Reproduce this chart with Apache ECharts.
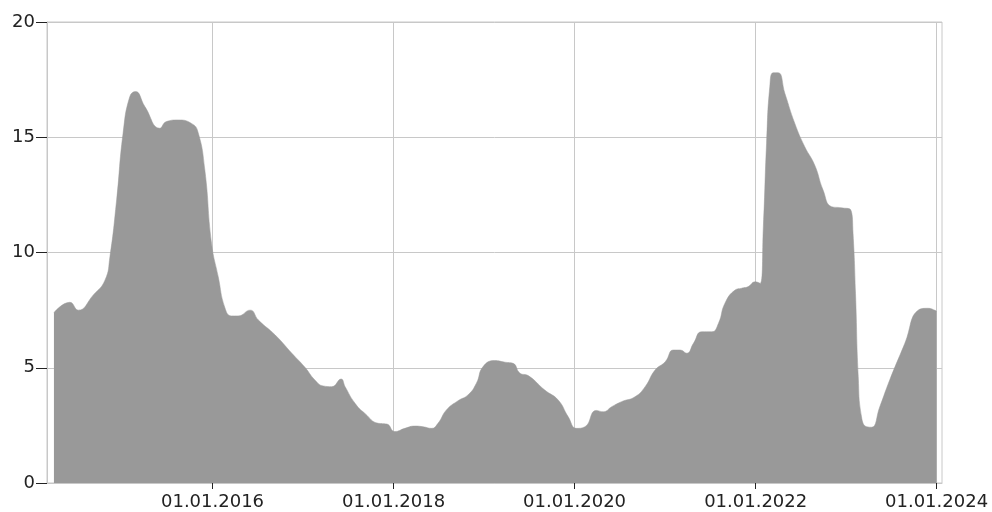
<!DOCTYPE html>
<html>
<head>
<meta charset="utf-8">
<script src="https://cdn.jsdelivr.net/npm/echarts@6/dist/echarts.min.js"></script>
<style>
  html, body { margin: 0; padding: 0; background: #fff; }
  #chart { width: 992px; height: 512px; }
</style>
</head>
<body>
<div id="chart"></div>
<script>
// values
const dates = [
  '2014-04-01', '2014-06-04', '2014-07-08', '2014-09-07', '2014-10-24', '2014-11-13', '2014-12-10',
  '2015-01-05', '2015-02-01', '2015-02-24', '2015-04-03', '2015-06-02', '2015-06-29', '2015-08-15',
  '2015-10-08', '2015-11-03', '2015-12-01', '2015-12-28',
  '2016-01-24', '2016-02-20', '2016-03-17', '2016-04-13', '2016-06-01', '2016-07-04', '2016-09-10', '2016-11-16',
  '2017-01-08', '2017-02-17', '2017-03-23', '2017-04-26', '2017-06-03', '2017-06-19', '2017-07-29',
  '2017-09-07', '2017-10-31', '2017-12-04',
  '2018-01-06', '2018-02-15', '2018-03-27', '2018-04-30', '2018-06-03', '2018-06-29', '2018-08-02',
  '2018-09-18', '2018-10-28', '2018-12-01', '2018-12-28',
  '2019-02-13', '2019-03-26', '2019-04-28', '2019-05-26', '2019-06-28', '2019-09-03', '2019-10-27', '2019-12-06',
  '2020-01-09', '2020-02-12', '2020-03-28', '2020-04-26', '2020-05-30', '2020-07-09', '2020-09-01',
  '2020-10-12', '2020-11-21',
  '2021-01-01', '2021-02-03', '2021-03-02', '2021-03-29', '2021-04-25', '2021-05-28', '2021-07-08',
  '2021-08-04', '2021-08-30', '2021-10-10', '2021-11-06', '2021-12-02', '2021-12-30',
  '2022-01-19', '2022-02-01', '2022-02-14', '2022-02-27', '2022-03-13', '2022-04-02', '2022-04-29',
  '2022-06-08', '2022-07-18', '2022-08-27', '2022-09-30', '2022-11-03', '2022-12-13',
  '2023-01-20', '2023-01-29', '2023-02-08', '2023-02-19', '2023-03-04', '2023-03-25', '2023-04-14',
  '2023-05-17', '2023-06-26', '2023-08-26', '2023-10-19', '2023-11-28', '2023-12-28', '2024-01-01'
]
const values = [
  7.39, 7.84, 7.5, 8.16, 8.8, 9.82, 12.28,
  15.17, 16.76, 16.98, 16.33, 15.39, 15.68, 15.75,
  15.6, 15.24, 13.58, 10.4,
  8.95, 7.6, 7.25, 7.25, 7.5, 7.07, 6.42, 5.63,
  5.02, 4.47, 4.21, 4.18, 4.51, 4.18, 3.46,
  3.02, 2.59, 2.56,
  2.23, 2.37, 2.47, 2.44, 2.37, 2.59, 3.17,
  3.57, 3.82, 4.33, 5.05,
  5.31, 5.24, 5.19, 4.76, 4.66, 4.03, 3.6, 2.88,
  2.37, 2.44, 3.15, 3.09, 3.31, 3.53, 3.74,
  4.18, 4.9,
  5.26, 5.77, 5.77, 5.63, 6.06, 6.56, 6.56,
  6.93, 7.8, 8.37, 8.45, 8.52, 8.73,
  8.66, 11.12, 14.74, 17.19, 17.8, 17.8, 16.9,
  15.6, 14.59, 13.8, 12.71, 11.99, 11.94,
  11.84, 10.83, 8.23, 4.61, 2.88, 2.44, 2.42,
  3.31, 4.47, 6.06, 7.5, 7.58, 7.48, 7.45
]
const tickDates = ['2016-01-01', '2018-01-01', '2020-01-01', '2022-01-01', '2024-01-01']
const tickLabels = ['01.01.2016', '01.01.2018', '01.01.2020', '01.01.2022', '01.01.2024']

const toTime = s => new Date(s + 'T00:00:00').getTime()
const tickTimes = tickDates.map(toTime)
const labelByTime = {}
tickTimes.forEach((t, i) => { labelByTime[t] = tickLabels[i] })

const chart = echarts.init(document.getElementById('chart'), null, { renderer: 'canvas' })

const font = 'DejaVu Sans'

chart.setOption({
  animation: false,
  backgroundColor: '#fff',
  grid: {
    left: 47, right: 50, top: 22, bottom: 29,
    show: true,
    borderColor: '#c8c8c8',
    borderWidth: 1
  },
  xAxis: {
    // dates as timestamps on a plain value scale, ticks only at the five New Years
    type: 'value',
    min: toTime('2014-03-04'),
    max: toTime('2024-01-23'),
    axisLine: { show: true, onZero: false, lineStyle: { color: '#c8c8c8', width: 1 } },
    axisTick: {
      show: true,
      length: 6,
      customValues: tickTimes,
      lineStyle: { color: '#222', width: 1 }
    },
    splitLine: { show: true, lineStyle: { color: '#c8c8c8', width: 1 } },
    axisLabel: {
      customValues: tickTimes,
      formatter: v => labelByTime[v] || '',
      color: '#222',
      fontFamily: font,
      fontSize: 18,
      margin: 10
    }
  },
  yAxis: {
    type: 'value',
    min: 0,
    max: 20,
    interval: 5,
    axisLine: { show: true, lineStyle: { color: '#c8c8c8', width: 1 } },
    axisTick: { show: true, length: 11, lineStyle: { color: '#222', width: 1 } },
    splitLine: { show: true, lineStyle: { color: '#c8c8c8', width: 1 } },
    axisLabel: {
      color: '#222',
      fontFamily: font,
      fontSize: 18,
      margin: 12
    }
  },
  series: [{
    type: 'line',
    data: dates.map((d, i) => [toTime(d), values[i]]),
    showSymbol: false,
    smooth: 0.5,
    lineStyle: { width: 0.5, color: '#999999' },
    areaStyle: { color: '#999999', opacity: 1 },
    z: 1
  }]
})
</script>
</body>
</html>
